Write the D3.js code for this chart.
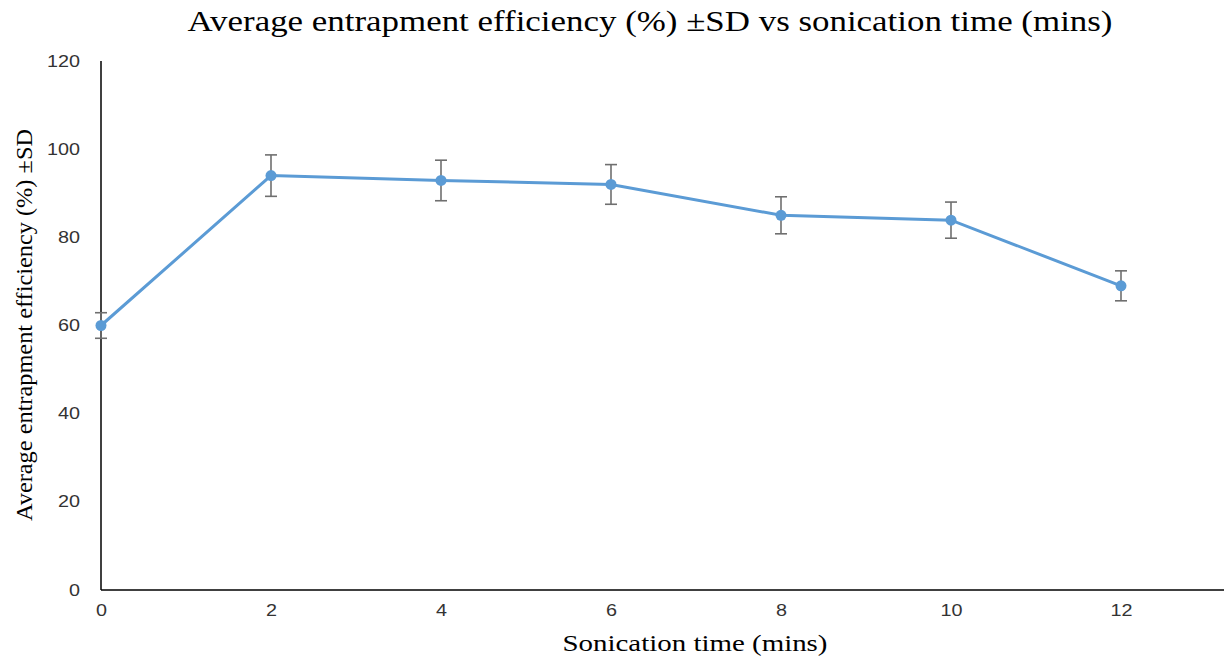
<!DOCTYPE html>
<html lang="en">
<head>
<meta charset="utf-8">
<title>Entrapment efficiency vs sonication time</title>
<script src="https://cdn.jsdelivr.net/npm/d3@7"></script>
<style>
  body { margin: 0; background: #fff; }
  svg { display: block; }
</style>
</head>
<body>
<script>
// data
var times = [0, 2, 4, 6, 8, 10, 12];
var efficiency = [60.0, 94.0, 92.9, 92.0, 85.0, 83.9, 69.0];
var sd = [2.9, 4.7, 4.6, 4.5, 4.2, 4.1, 3.4];
var xTicks = [0, 2, 4, 6, 8, 10, 12];
var yTicks = [0, 20, 40, 60, 80, 100, 120];

var width = 1225, height = 657;
var plotLeft = 101, plotTop = 61, plotBottom = 590;

var svg = d3.select("body").append("svg")
  .attr("width", width)
  .attr("height", height);

var x = d3.scaleLinear().domain([0, 12]).range([plotLeft, 1121]);
var y = d3.scaleLinear().domain([0, 120]).range([plotBottom, plotTop]);

// tick labels in the picture are a bit stretched sideways
function styleTicks(g) {
  g.select(".domain").remove();
  g.selectAll("text")
    .attr("font-family", "Liberation Sans, Arial, sans-serif")
    .style("font-size", "16px")
    .attr("fill", "#333")
    .attr("textLength", function(d) { return String(d).length * 11; })
    .attr("lengthAdjust", "spacingAndGlyphs");
}

// axes, no tick marks
svg.append("g")
  .attr("transform", "translate(0," + plotBottom + ")")
  .call(d3.axisBottom(x).tickValues(xTicks).tickSize(0).tickPadding(15))
  .call(styleTicks);

svg.append("g")
  .attr("transform", "translate(" + plotLeft + ",0)")
  .call(d3.axisLeft(y).tickValues(yTicks).tickSize(0).tickPadding(21))
  .call(styleTicks);

// axis lines: x axis runs to the right edge
svg.append("line")
  .attr("x1", plotLeft).attr("x2", width - 1)
  .attr("y1", plotBottom).attr("y2", plotBottom)
  .attr("stroke", "#000").attr("stroke-width", 1.5);
svg.append("line")
  .attr("x1", plotLeft).attr("x2", plotLeft)
  .attr("y1", plotTop).attr("y2", plotBottom)
  .attr("stroke", "#000").attr("stroke-width", 1.5);

var pts = times.map(function(t, i) { return { t: t, v: efficiency[i], sd: sd[i] }; });

// series line
svg.append("path")
  .datum(pts)
  .attr("fill", "none")
  .attr("stroke", "#5B9BD5")
  .attr("stroke-width", 3)
  .attr("d", d3.line().x(function(d) { return x(d.t); }).y(function(d) { return y(d.v); }));

// error bars
var eb = svg.selectAll(".eb").data(pts).enter().append("g")
  .attr("stroke", "#6f6f6f").attr("stroke-width", 1.6);
eb.append("line")
  .attr("x1", function(d) { return x(d.t); }).attr("x2", function(d) { return x(d.t); })
  .attr("y1", function(d) { return y(d.v + d.sd); }).attr("y2", function(d) { return y(d.v - d.sd); });
eb.append("line")
  .attr("x1", function(d) { return x(d.t) - 6; }).attr("x2", function(d) { return x(d.t) + 6; })
  .attr("y1", function(d) { return y(d.v + d.sd); }).attr("y2", function(d) { return y(d.v + d.sd); });
eb.append("line")
  .attr("x1", function(d) { return x(d.t) - 6; }).attr("x2", function(d) { return x(d.t) + 6; })
  .attr("y1", function(d) { return y(d.v - d.sd); }).attr("y2", function(d) { return y(d.v - d.sd); });

// markers
svg.selectAll(".pt").data(pts).enter().append("circle")
  .attr("cx", function(d) { return x(d.t); })
  .attr("cy", function(d) { return y(d.v); })
  .attr("r", 5.5)
  .attr("fill", "#5B9BD5");

// titles
svg.append("text")
  .attr("x", 650).attr("y", 31)
  .attr("text-anchor", "middle")
  .attr("font-family", "Liberation Serif, Times New Roman, serif")
  .attr("font-size", 29)
  .attr("textLength", 925).attr("lengthAdjust", "spacingAndGlyphs")
  .text("Average entrapment efficiency (%) ±SD vs sonication time (mins)");

svg.append("text")
  .attr("x", 695).attr("y", 651)
  .attr("text-anchor", "middle")
  .attr("font-family", "Liberation Serif, Times New Roman, serif")
  .attr("font-size", 23)
  .attr("textLength", 265).attr("lengthAdjust", "spacingAndGlyphs")
  .text("Sonication time (mins)");

svg.append("text")
  .attr("transform", "translate(32,325) rotate(-90)")
  .attr("text-anchor", "middle")
  .attr("font-family", "Liberation Serif, Times New Roman, serif")
  .attr("font-size", 23)
  .attr("textLength", 392).attr("lengthAdjust", "spacingAndGlyphs")
  .text("Average entrapment efficiency (%) ±SD");
</script>
</body>
</html>
